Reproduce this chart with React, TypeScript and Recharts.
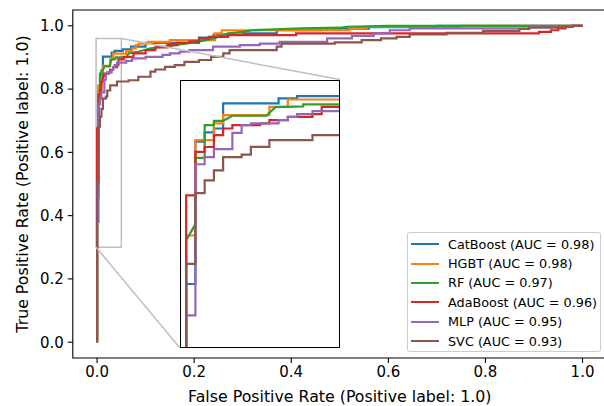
import { Line, LineChart, ReferenceArea, ReferenceLine, XAxis, YAxis } from "recharts";

type Pt = [number, number];

// ROC points [FPR, TPR]
const catBoostRoc: Pt[] = [
  [0, 0], [0, 0.4575], [0.003, 0.4575], [0.003, 0.808], [0.006, 0.808], [0.006, 0.831],
  [0.009, 0.831], [0.009, 0.8405], [0.012, 0.8405], [0.012, 0.9025], [0.03, 0.9025],
  [0.03, 0.915], [0.036, 0.915], [0.036, 0.9205], [0.053, 0.9205], [0.053, 0.926],
  [0.07, 0.926], [0.07, 0.934], [0.1, 0.934], [0.1, 0.946], [0.21, 0.946], [0.21, 0.963],
  [0.24, 0.963], [0.24, 0.972], [0.3, 0.972], [0.3, 0.976], [0.37, 0.976], [0.37, 0.986],
  [0.46, 0.986], [0.46, 0.991], [0.56, 0.991], [0.56, 0.996], [0.7, 0.996], [0.7, 1], [1, 1],
];

const hgbtRoc: Pt[] = [
  [0, 0], [0, 0.577], [0.003, 0.577], [0.003, 0.812], [0.009, 0.812], [0.009, 0.853],
  [0.012, 0.853], [0.012, 0.8735], [0.027, 0.8735], [0.027, 0.894], [0.033, 0.894],
  [0.033, 0.912], [0.06, 0.912], [0.06, 0.92], [0.072, 0.92], [0.072, 0.929], [0.08, 0.929],
  [0.08, 0.939], [0.086, 0.939], [0.086, 0.944], [0.105, 0.944], [0.105, 0.949], [0.15, 0.949],
  [0.15, 0.955], [0.243, 0.955], [0.243, 0.976], [0.257, 0.976], [0.257, 0.986], [0.52, 0.986],
  [0.52, 0.992], [0.555, 0.992], [0.555, 0.997], [0.75, 0.997], [0.75, 1], [1, 1],
];

const rfRoc: Pt[] = [
  [0, 0], [0, 0.565], [0.003, 0.605], [0.003, 0.768], [0.006, 0.768], [0.006, 0.849],
  [0.009, 0.849], [0.009, 0.8595], [0.012, 0.8595], [0.015, 0.872], [0.026, 0.872],
  [0.029, 0.893], [0.038, 0.895], [0.038, 0.9], [0.06, 0.9], [0.065, 0.913], [0.085, 0.918],
  [0.11, 0.929], [0.14, 0.934], [0.16, 0.939], [0.185, 0.944], [0.205, 0.949], [0.225, 0.955],
  [0.25, 0.965], [0.27, 0.976], [0.3, 0.981], [0.32, 0.986], [0.42, 0.992], [0.5, 0.994],
  [0.515, 0.997], [0.6, 1], [1, 1],
];

const adaBoostRoc: Pt[] = [
  [0, 0], [0, 0.676], [0.003, 0.676], [0.003, 0.783], [0.006, 0.783], [0.006, 0.795],
  [0.009, 0.795], [0.009, 0.824], [0.012, 0.824], [0.012, 0.8405], [0.015, 0.8405],
  [0.015, 0.849], [0.024, 0.849], [0.024, 0.853], [0.027, 0.853], [0.027, 0.861],
  [0.033, 0.861], [0.033, 0.869], [0.041, 0.869], [0.041, 0.876], [0.044, 0.876],
  [0.044, 0.894], [0.055, 0.894], [0.055, 0.902], [0.075, 0.902], [0.075, 0.913], [0.1, 0.913],
  [0.1, 0.923], [0.12, 0.923], [0.12, 0.932], [0.145, 0.932], [0.145, 0.939], [0.165, 0.939],
  [0.165, 0.946], [0.19, 0.946], [0.19, 0.951], [0.21, 0.951], [0.21, 0.96], [0.23, 0.96],
  [0.23, 0.965], [0.27, 0.965], [0.27, 0.9706], [0.41, 0.9706], [0.41, 0.976], [0.91, 0.976],
  [0.91, 0.981], [0.935, 0.981], [0.935, 0.986], [0.95, 0.986], [0.95, 0.992], [0.965, 0.992],
  [0.965, 0.997], [0.98, 0.997], [0.98, 1], [1, 1],
];

const mlpRoc: Pt[] = [
  [0, 0], [0, 0.38], [0.003, 0.38], [0.003, 0.7525], [0.006, 0.7525], [0.006, 0.77],
  [0.009, 0.77], [0.009, 0.7895], [0.015, 0.7895], [0.015, 0.83], [0.018, 0.83], [0.018, 0.849],
  [0.021, 0.849], [0.021, 0.853], [0.03, 0.853], [0.03, 0.861], [0.033, 0.861], [0.033, 0.869],
  [0.036, 0.869], [0.036, 0.876], [0.041, 0.876], [0.041, 0.8835], [0.06, 0.8835], [0.06, 0.889],
  [0.072, 0.889], [0.072, 0.897], [0.1, 0.897], [0.1, 0.902], [0.135, 0.902], [0.135, 0.908],
  [0.15, 0.908], [0.15, 0.913], [0.17, 0.913], [0.17, 0.918], [0.19, 0.918], [0.19, 0.923],
  [0.239, 0.923], [0.239, 0.934], [0.294, 0.934], [0.294, 0.939], [0.335, 0.939], [0.335, 0.944],
  [0.376, 0.944], [0.376, 0.949], [0.474, 0.949], [0.474, 0.96], [0.525, 0.96], [0.525, 0.968],
  [0.57, 0.968], [0.57, 0.976], [0.603, 0.976], [0.603, 0.986], [0.644, 0.986], [0.644, 0.992],
  [0.89, 0.992], [0.89, 0.997], [0.97, 0.997], [0.97, 1], [1, 1],
];

const svcRoc: Pt[] = [
  [0, 0], [0, 0.507], [0.003, 0.507], [0.003, 0.6815], [0.006, 0.6815], [0.006, 0.713],
  [0.009, 0.713], [0.009, 0.7376], [0.012, 0.7376], [0.012, 0.77], [0.018, 0.77], [0.018, 0.776],
  [0.021, 0.776], [0.021, 0.7955], [0.027, 0.7955], [0.027, 0.8118], [0.041, 0.8118],
  [0.041, 0.824], [0.065, 0.824], [0.065, 0.828], [0.085, 0.828], [0.085, 0.839], [0.11, 0.839],
  [0.11, 0.855], [0.12, 0.855], [0.12, 0.862], [0.14, 0.862], [0.14, 0.87], [0.16, 0.87],
  [0.16, 0.876], [0.18, 0.876], [0.18, 0.886], [0.21, 0.886], [0.21, 0.892], [0.235, 0.892],
  [0.235, 0.902], [0.26, 0.902], [0.26, 0.913], [0.273, 0.913], [0.273, 0.923], [0.37, 0.923],
  [0.37, 0.934], [0.38, 0.934], [0.38, 0.944], [0.49, 0.944], [0.49, 0.9475], [0.545, 0.9475],
  [0.545, 0.955], [0.585, 0.955], [0.585, 0.96], [0.617, 0.96], [0.617, 0.965], [0.644, 0.965],
  [0.644, 0.9725], [0.72, 0.9725], [0.72, 0.978], [0.795, 0.978], [0.795, 0.984], [0.87, 0.984],
  [0.87, 0.99], [0.89, 0.99], [0.89, 0.994], [0.95, 0.994], [0.95, 0.997], [0.98, 0.997],
  [0.98, 1], [1, 1],
];

const modelNames = ["CatBoost", "HGBT", "RF", "AdaBoost", "MLP", "SVC"];
const aucValues = [0.98, 0.98, 0.97, 0.96, 0.95, 0.93];
const rocCurves = [catBoostRoc, hgbtRoc, rfRoc, adaBoostRoc, mlpRoc, svcRoc];
const axisTicks = [0, 0.2, 0.4, 0.6, 0.8, 1.0];

const COLORS = ["#1f77b4", "#ff7f0e", "#2ca02c", "#d62728", "#9467bd", "#8c564b"];
const FONT = "'DejaVu Sans', sans-serif";

// main axes limits and the zoomed window
const DOMAIN: [number, number] = [-0.05, 1.05];
const ZOOM_X: [number, number] = [-0.002, 0.05];
const ZOOM_Y: [number, number] = [0.3, 0.96];

// layout (px)
const PLOT_LEFT = 72.8;
const PLOT_TOP = 10;
const PLOT_W = 534;
const PLOT_H = 348;
// inset in axes fraction [x0, y0, w, h]
const INSET_FRAC = [0.2, 0.03, 0.3, 0.77];

const series = modelNames.map((name, i) => ({
  name,
  label: `${name} (AUC = ${aucValues[i].toFixed(2)})`,
  color: COLORS[i],
  data: rocCurves[i].map(([fpr, tpr]) => ({ fpr, tpr })),
}));

const span = DOMAIN[1] - DOMAIN[0];
const insetData = {
  x0: DOMAIN[0] + INSET_FRAC[0] * span,
  x1: DOMAIN[0] + (INSET_FRAC[0] + INSET_FRAC[2]) * span,
  y0: DOMAIN[0] + INSET_FRAC[1] * span,
  y1: DOMAIN[0] + (INSET_FRAC[1] + INSET_FRAC[3]) * span,
};
const insetBox = {
  left: PLOT_LEFT + INSET_FRAC[0] * PLOT_W,
  top: PLOT_TOP + (1 - INSET_FRAC[1] - INSET_FRAC[3]) * PLOT_H,
  width: INSET_FRAC[2] * PLOT_W,
  height: INSET_FRAC[3] * PLOT_H,
};

function Lines() {
  return series.map((s) => (
    <Line
      key={s.name}
      data={s.data}
      dataKey="tpr"
      type="linear"
      stroke={s.color}
      strokeWidth={2.2}
      dot={false}
      activeDot={false}
      isAnimationActive={false}
    />
  ));
}

export default function App() {
  return (
    <div
      style={{
        position: "absolute",
        left: 0,
        top: 0,
        width: 604,
        height: 406,
        overflow: "hidden",
        background: "#fff",
        fontFamily: FONT,
      }}
    >
      <LineChart
        width={PLOT_LEFT + PLOT_W}
        height={406}
        margin={{ top: PLOT_TOP, right: 0, bottom: 0, left: 0 }}
        style={{ fontFamily: FONT }}
      >
        <XAxis
          type="number"
          dataKey="fpr"
          domain={DOMAIN}
          allowDataOverflow
          ticks={axisTicks}
          tickFormatter={(v: number) => v.toFixed(1)}
          height={406 - PLOT_TOP - PLOT_H}
          axisLine={false}
          tickLine={{ stroke: "#000", strokeWidth: 1.1 }}
          tickSize={5}
          tickMargin={3}
          tick={{ fill: "#000", fontSize: 15 }}
          label={{
            value: "False Positive Rate (Positive label: 1.0)",
            position: "insideBottom",
            offset: 4,
            fill: "#000",
            fontSize: 15.8,
          }}
        />
        <YAxis
          type="number"
          domain={DOMAIN}
          allowDataOverflow
          ticks={axisTicks}
          tickFormatter={(v: number) => v.toFixed(1)}
          width={PLOT_LEFT}
          axisLine={false}
          tickLine={{ stroke: "#000", strokeWidth: 1.1 }}
          tickSize={5}
          tickMargin={4}
          tick={{ fill: "#000", fontSize: 15 }}
          label={{
            value: "True Positive Rate (Positive label: 1.0)",
            angle: -90,
            position: "insideLeft",
            offset: 22,
            fill: "#000",
            fontSize: 15.8,
            style: { textAnchor: "middle" },
          }}
        />
        {Lines()}
        <ReferenceArea
          x1={ZOOM_X[0]}
          x2={ZOOM_X[1]}
          y1={ZOOM_Y[0]}
          y2={ZOOM_Y[1]}
          fill="none"
          stroke="#bfbfbf"
          strokeWidth={1.5}
          ifOverflow="visible"
        />
        <ReferenceLine
          segment={[
            { x: ZOOM_X[1], y: ZOOM_Y[1] },
            { x: insetData.x1, y: insetData.y1 },
          ]}
          stroke="#bfbfbf"
          strokeWidth={1.5}
          ifOverflow="visible"
        />
        <ReferenceLine
          segment={[
            { x: ZOOM_X[0], y: ZOOM_Y[0] },
            { x: insetData.x0, y: insetData.y0 },
          ]}
          stroke="#bfbfbf"
          strokeWidth={1.5}
          ifOverflow="visible"
        />
        <ReferenceArea
          x1={DOMAIN[0]}
          x2={DOMAIN[1]}
          y1={DOMAIN[0]}
          y2={DOMAIN[1]}
          fill="none"
          stroke="#000"
          strokeWidth={1.1}
          ifOverflow="visible"
        />
      </LineChart>

      {/* zoomed inset */}
      <div
        style={{
          position: "absolute",
          left: insetBox.left,
          top: insetBox.top,
          width: insetBox.width,
          height: insetBox.height,
          background: "#fff",
        }}
      >
        <LineChart
          width={insetBox.width}
          height={insetBox.height}
          margin={{ top: 0, right: 0, bottom: 0, left: 0 }}
        >
          <XAxis type="number" dataKey="fpr" domain={ZOOM_X} allowDataOverflow hide />
          <YAxis type="number" domain={ZOOM_Y} allowDataOverflow hide />
          {Lines()}
        </LineChart>
        <div
          style={{
            position: "absolute",
            inset: 0,
            border: "1.1px solid #000",
            pointerEvents: "none",
          }}
        />
      </div>

      {/* legend */}
      <div
        style={{
          position: "absolute",
          left: 407,
          top: 232,
          width: 194,
          height: 120,
          boxSizing: "border-box",
          border: "1px solid #cccccc",
          borderRadius: 3,
          background: "rgba(255,255,255,0.8)",
          padding: "1.5px 0 0 3px",
          fontSize: 12.8,
          color: "#000",
        }}
      >
        {series.map((s) => (
          <div
            key={s.name}
            style={{ display: "flex", alignItems: "center", height: 19.4, whiteSpace: "nowrap" }}
          >
            <span
              style={{ width: 28, height: 2, background: s.color, marginRight: 9, flexShrink: 0 }}
            />
            <span>{s.label}</span>
          </div>
        ))}
      </div>
    </div>
  );
}
